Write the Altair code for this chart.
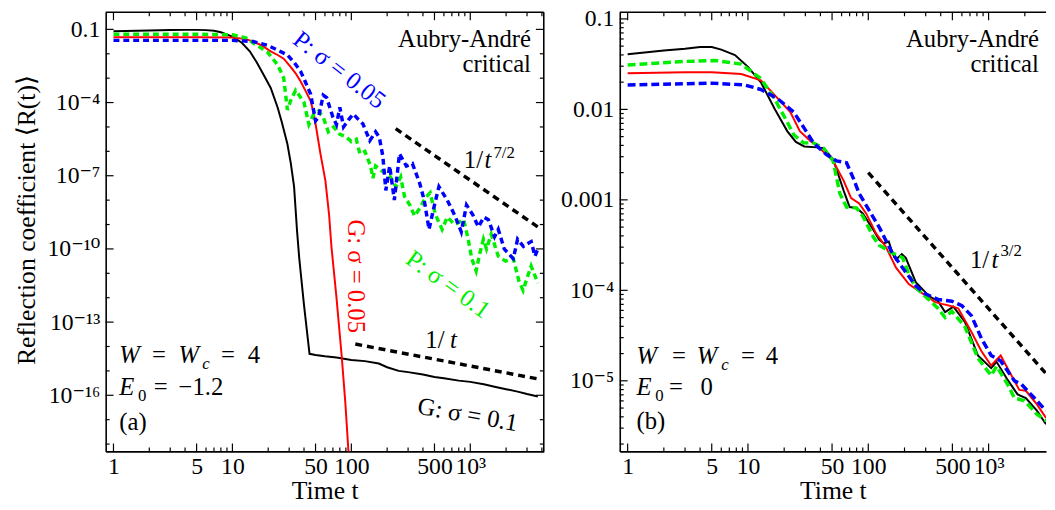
import altair as alt
import pandas as pd

FONT = "Liberation Serif, DejaVu Serif, serif"
BLACK, RED, GREEN, BLUE = "#000000", "#ff0000", "#00ee00", "#0000ff"

# ---------------- panel (a): E0 = -1.2 ----------------
a_G01_t = [1, 2, 3, 4, 5, 6, 7, 8, 10, 12, 14, 16, 18, 21, 24, 26, 29, 31, 33, 35, 36.5, 40, 44.5,
           50, 60, 75, 100, 130, 170, 200, 250, 300, 400, 500, 600, 800, 1000, 1300, 1600, 2000, 2500, 3000, 3700]
a_G01_logR = [-1.08, -1.05, -1.03, -1.02, -1.02, -1.03, -1.06, -1.12, -1.3, -1.55, -1.9, -2.35, -2.8, -3.4, -4.2,
              -4.8, -5.7, -6.5, -7.45, -9.3, -10.4, -12.3, -14.3,
              -14.35, -14.4, -14.45, -14.55, -14.6, -14.7, -14.85, -15.0, -15.05, -15.15, -15.25, -15.3, -15.4,
              -15.45, -15.55, -15.65, -15.75, -15.85, -15.95, -16.05]

a_G005_t = [1, 5, 10, 13, 15, 17.5, 21, 24, 27, 31, 34, 37.5, 41, 45.5, 48, 50, 55, 60.5, 65, 68, 75, 83, 89, 96]
a_G005_logR = [-1.32, -1.32, -1.33, -1.4, -1.5, -1.65, -1.9, -2.05, -2.2, -2.55, -2.8, -3.14, -3.5, -3.94, -4.4,
               -4.87, -6.1, -7.2, -8.6, -9.9, -12.0, -14.4, -16.3, -18.8]

a_P01_t = [1, 5, 10, 13, 15.4, 19.7, 24, 27, 29, 31, 34, 37, 40, 44, 48, 53, 58, 64, 71, 80, 90, 100, 110, 118, 130,
           145, 152, 160, 180, 210, 237, 260, 280, 310, 340, 380, 420, 460, 510, 580, 640, 740, 880, 960, 1030,
           1120, 1200, 1290, 1370, 1500, 1720, 1980, 2300, 2560, 2780, 3000, 3250, 3500, 3700]
a_P01_logR = [-1.2, -1.2, -1.22, -1.35, -1.6, -1.93, -2.45, -3.0, -4.3, -3.9, -3.5, -3.75, -4.0, -4.9, -4.5,
              -4.35, -4.6, -5.2, -5.0, -5.3, -5.4, -5.6, -5.5, -6.1, -6.0, -6.6, -7.1, -6.6, -6.8, -7.0,
              -7.45, -7.05, -7.85, -8.2, -8.65, -8.3, -7.9, -7.7, -8.6, -9.2, -8.7, -9.0, -8.8, -9.6, -10.4,
              -10.9, -10.2, -9.6, -10.0, -9.4, -10.3, -10.5, -10.4, -11.3, -11.7, -11.2, -10.7, -11.1, -11.4]

a_P005_t = [1, 5, 10, 15, 19.7, 24, 29, 33, 37.5, 41, 45.5, 50, 53, 58, 62, 70, 75, 80, 86, 95, 104, 115, 125, 143,
            160, 172, 184, 195, 210, 230, 254, 290, 326, 375, 410, 450, 500, 545, 640, 745, 840, 930, 1050, 1170,
            1300, 1420, 1600, 1720, 1930, 2300, 2500, 2800, 3000, 3250, 3500, 3700]
a_P005_logR = [-1.45, -1.45, -1.45, -1.5, -1.65, -1.85, -2.05, -2.35, -2.73, -3.15, -3.66, -4.75, -4.6, -3.7,
               -3.8, -4.6, -4.9, -4.2, -5.0, -4.7, -4.47, -4.7, -4.87, -5.56, -5.2, -5.43, -6.2, -7.6, -6.6,
               -8.0, -6.1, -6.6, -6.5, -7.3, -8.0, -9.2, -8.2, -7.45, -8.0, -8.65, -9.3, -8.2, -8.6, -9.1,
               -8.7, -8.8, -9.5, -9.2, -10.0, -10.4, -9.6, -9.9, -9.8, -9.7, -10.3, -10.0]

a_pow72_t = [236, 3700]
a_pow72_logR = [-5.07, -9.1]
a_pow1_t = [108, 3900]
a_pow1_logR = [-13.9, -15.35]

# ---------------- panel (b): E0 = 0 ----------------
b_G01_t = [1, 2, 3, 4, 5, 6, 7.8, 10, 12.8, 16.6, 21.2, 25, 29.4, 37.5, 42.6, 51, 62.5, 70, 80, 90, 110, 123, 135,
           148, 160, 170, 190, 205, 248, 317, 380, 435, 510, 635, 815, 1050, 1165, 1440, 1740, 2040, 2520, 3000]
b_G01_logR = [-1.39, -1.35, -1.33, -1.31, -1.31, -1.34, -1.40, -1.53, -1.70, -1.99, -2.24, -2.36, -2.41, -2.42,
              -2.43, -2.55, -2.9, -3.08, -3.09, -3.15, -3.33, -3.44, -3.48, -3.46, -3.6, -3.66, -3.6, -3.64,
              -3.91, -4.06, -4.12, -4.24, -4.18, -4.35, -4.72, -4.86, -4.79, -4.99, -5.15, -5.19, -5.33, -5.48]

b_G005_t = [1, 3, 5, 8.8, 12.8, 16.6, 22.5, 27, 33, 39.6, 51, 62.5, 72, 84, 96, 116, 140, 170, 217, 300, 360, 410,
            510, 560, 720, 870, 1050, 1260, 1490, 1800, 2040, 2520, 3000]
b_G005_logR = [-1.6, -1.59, -1.59, -1.61, -1.68, -1.84, -2.03, -2.24, -2.35, -2.43, -2.57, -2.79, -2.98, -3.04,
               -3.15, -3.37, -3.52, -3.75, -3.93, -4.06, -4.13, -4.15, -4.18, -4.2, -4.46, -4.67, -4.83, -4.72,
               -4.9, -5.1, -5.11, -5.26, -5.41]

b_P01_t = [1, 3, 5.4, 8.8, 12.8, 16.6, 21, 24, 29, 35, 42.6, 51, 58, 66, 80, 91, 110, 123, 154, 193, 217, 248, 317,
           380, 435, 495, 635, 815, 1050, 1165, 1440, 1640, 1990, 2520, 3000]
b_P01_logR = [-1.51, -1.47, -1.46, -1.5, -1.66, -1.88, -2.13, -2.28, -2.37, -2.37, -2.43, -2.57, -2.93, -3.08,
              -3.09, -3.19, -3.41, -3.5, -3.58, -3.64, -3.82, -3.97, -4.1, -4.2, -4.3, -4.23, -4.4, -4.75,
              -4.94, -4.84, -5.04, -5.19, -5.22, -5.37, -5.44]

b_P005_t = [1, 5, 9.4, 12.8, 17.6, 24, 29.4, 35, 45, 54.5, 66, 75, 84, 102, 123, 160, 205, 248, 300, 380, 495, 600,
            720, 870, 1050, 1260, 1640, 1880, 2400, 3000]
b_P005_logR = [-1.73, -1.71, -1.73, -1.78, -1.88, -2.03, -2.21, -2.37, -2.5, -2.57, -2.59, -2.76, -2.93, -3.12,
               -3.3, -3.6, -3.8, -3.95, -4.04, -4.1, -4.12, -4.17, -4.28, -4.53, -4.72, -4.78, -5.0, -5.04,
               -5.19, -5.33]

b_pow32_t = [100, 3000]
b_pow32_logR = [-2.70, -4.92]

# tick values
x_major = [1, 5, 10, 50, 100, 500, 1000]
x_minor = [2, 3, 4, 6, 7, 8, 9, 20, 30, 40, 60, 70, 80, 90, 200, 300, 400, 600, 700, 800, 900, 2000, 3000, 4000]
a_y_major_exp = [-1, -4, -7, -10, -13, -16]
a_y_labels = ["0.1", "10\u207b\u2074", "10\u207b\u2077", "10\u207b\u00b9\u2070", "10\u207b\u00b9\u00b3", "10\u207b\u00b9\u2076"]
b_y_major_exp = [-1, -2, -3, -4, -5]
b_y_labels = ["0.1", "0.01", "0.001", "10\u207b\u2074", "10\u207b\u2075"]


def df(t, logR):
    return pd.DataFrame({"t": t, "R": [10.0 ** v for v in logR]})


def tok(rows):
    return pd.DataFrame({"label": [r[0] for r in rows], "t": [r[1] for r in rows],
                         "R": [10.0 ** r[2] for r in rows]})


def make_panel(series, xdom, ydom, W, H, yaxis, y_major, y_minor, xmax, texts, rotated, right_border):
    xs = alt.Scale(type="log", domain=xdom, nice=False)
    ys = alt.Scale(type="log", domain=ydom, nice=False)
    xaxis = alt.Axis(values=x_major, labelExpr="datum.value > 999 ? '10\u00b3' : '' + round(datum.value)",
                     ticks=False, grid=False, domainColor="black", domainWidth=1.6, labelFont=FONT,
                     labelFontSize=24, labelColor="black", labelPadding=3, labelFlush=False,
                     labelOverlap=False, title="Time t", titleFont=FONT, titleFontSize=26,
                     titleFontWeight="normal", titleColor="black", titlePadding=0)
    X = alt.X("t:Q", scale=xs, axis=xaxis)
    Y = alt.Y("R:Q", scale=ys, axis=yaxis)
    layers = []
    for d, color, width, dash in series:
        kw = dict(color=color, strokeWidth=width, clip=True)
        if dash:
            kw["strokeDash"] = dash
        layers.append(alt.Chart(d).mark_line(**kw).encode(x=X, y=Y))
    one = pd.DataFrame({"z": [0]})
    xmaj = pd.DataFrame({"t": [v for v in x_major if v < xmax]})
    xmin = pd.DataFrame({"t": [v for v in x_minor if v < xmax]})
    ymaj = pd.DataFrame({"R": y_major})
    ymin = pd.DataFrame({"R": y_minor})
    rk = dict(color="black", strokeWidth=1.2)
    for d, L in ((xmaj, 8), (xmin, 4)):
        layers.append(alt.Chart(d).mark_rule(**rk).encode(x=X, y=alt.value(H), y2=alt.value(H - L)))
        layers.append(alt.Chart(d).mark_rule(**rk).encode(x=X, y=alt.value(0), y2=alt.value(L)))
    for d, L in ((ymaj, 8), (ymin, 4)):
        layers.append(alt.Chart(d).mark_rule(**rk).encode(y=Y, x=alt.value(0), x2=alt.value(L)))
        if right_border:
            layers.append(alt.Chart(d).mark_rule(**rk).encode(y=Y, x=alt.value(W - L), x2=alt.value(W)))
    layers.append(alt.Chart(one).mark_rule(color="black", strokeWidth=1.6).encode(
        x=alt.value(0), x2=alt.value(W), y=alt.value(0)))
    if right_border:
        layers.append(alt.Chart(one).mark_rule(color="black", strokeWidth=1.6).encode(
            x=alt.value(W), y=alt.value(0), y2=alt.value(H)))
    for rows, align, size, style in texts:
        kw = dict(align=align, baseline="alphabetic", font=FONT, fontSize=size, color="black")
        if style:
            kw["fontStyle"] = style
        layers.append(alt.Chart(tok(rows)).mark_text(**kw).encode(x=X, y=Y, text="label:N"))
    for label, t, lr, ang, color in rotated:
        layers.append(alt.Chart(tok([(label, t, lr)])).mark_text(
            align="center", baseline="middle", font=FONT, fontSize=25, color=color, angle=ang
        ).encode(x=X, y=Y, text="label:N"))
    return alt.layer(*layers).properties(width=W, height=H)


def ylab_expr(labels, exps):
    arr = "[" + ",".join("'" + s + "'" for s in labels) + "]"
    step = exps[0] - exps[1]
    return arr + "[round((-log(datum.value)/LN10 - 1)/" + str(step) + ")]"


ya = alt.Axis(values=[10.0 ** e for e in a_y_major_exp], labelExpr=ylab_expr(a_y_labels, a_y_major_exp),
              ticks=False, grid=False, domainColor="black", domainWidth=1.6, labelFont=FONT, labelFontSize=24,
              labelColor="black", labelPadding=6, labelFlush=False, labelOverlap=False,
              title="Reflection coefficient \u27e8R(t)\u27e9", titleFont=FONT, titleFontSize=26,
              titleFontWeight="normal", titleColor="black", titlePadding=8, titleY=210)
yb = alt.Axis(values=[10.0 ** e for e in b_y_major_exp], labelExpr=ylab_expr(b_y_labels, b_y_major_exp),
              ticks=False, grid=False, domainColor="black", domainWidth=1.6, labelFont=FONT, labelFontSize=24,
              labelColor="black", labelPadding=6, labelFlush=False, labelOverlap=False, title=None)

a_series = [
    (df(a_G01_t, a_G01_logR), BLACK, 2, None),
    (df(a_G005_t, a_G005_logR), RED, 2, None),
    (df(a_P01_t, a_P01_logR), GREEN, 3.5, [6, 4]),
    (df(a_P005_t, a_P005_logR), BLUE, 3.5, [6, 4]),
    (df(a_pow72_t, a_pow72_logR), BLACK, 3.5, [7, 5]),
    (df(a_pow1_t, a_pow1_logR), BLACK, 3.5, [7, 5]),
]
b_series = [
    (df(b_G01_t, b_G01_logR), BLACK, 2, None),
    (df(b_G005_t, b_G005_logR), RED, 2, None),
    (df(b_P01_t, b_P01_logR), GREEN, 3.5, [8, 4]),
    (df(b_P005_t, b_P005_logR), BLUE, 3.5, [8, 4]),
    (df(b_pow32_t, b_pow32_logR), BLACK, 3.5, [7, 5]),
]

a_texts = [
    ([("Aubry-Andr\u00e9", 3238, -1.729), ("critical", 3238, -2.741)], "right", 25, None),
    ([("=", 2.408, -14.684), ("=", 9.18, -14.684), ("=", 2.50, -15.98)], "center", 25, None),
    ([("4", 13.45, -14.684), ("\u22121.2", 3.527, -15.98), ("(a)", 1.121, -17.437),
      ("1/", 883, -6.668), ("1/", 419, -14.077)], "left", 25, None),
    ([("W", 1.121, -14.684), ("W", 3.527, -14.684), ("E", 1.121, -15.98), ("t", 1319, -6.668),
      ("t", 676, -14.077)], "left", 25, "italic"),
    ([("c", 5.584, -14.927)], "left", 17, "italic"),
    ([("0", 1.61, -16.223), ("7/2", 1567, -6.263)], "left", 17, None),
]
a_rot = [
    ("P: \u03c3 = 0.05", 79.5, -2.66, 38, BLUE),
    ("G: \u03c3 = 0.05", 110, -11.12, 90, RED),
    ("P: \u03c3 = 0.1", 651, -11.45, 36, GREEN),
    ("G: \u03c3 = 0.1", 953, -16.79, 10, BLACK),
]
b_texts = [
    ([("Aubry-Andr\u00e9", 2618, -1.316), ("critical", 2618, -1.589)], "right", 25, None),
    ([("=", 2.668, -4.817), ("=", 10.0, -4.817), ("=", 2.52, -5.155)], "center", 25, None),
    ([("4", 14.04, -4.817), ("0", 4.04, -5.155), ("(b)", 1.185, -5.537), ("1/", 699, -3.748)],
     "left", 25, None),
    ([("W", 1.185, -4.817), ("W", 3.747, -4.817), ("E", 1.185, -5.155), ("t", 1059, -3.748)],
     "left", 25, "italic"),
    ([("c", 6.0, -4.882)], "left", 17, "italic"),
    ([("0", 1.697, -5.22), ("3/2", 1253, -3.617)], "left", 17, None),
]

a_y_minor = [10.0 ** e for e in range(-2, -19, -1) if e not in a_y_major_exp]
b_y_minor = [k * 10.0 ** e for e in range(-2, -7, -1) for k in range(2, 10) if k * 10.0 ** e > 10 ** -5.78]

pa = make_panel(a_series, [0.86, 4150], [10 ** -18.3, 10 ** -0.3], 444, 445, ya,
                [10.0 ** e for e in a_y_major_exp], a_y_minor, 4150, a_texts, a_rot, True)
pb = make_panel(b_series, [0.86, 3000], [10 ** -5.78, 10 ** -0.927], 432, 445, yb,
                [10.0 ** e for e in b_y_major_exp], b_y_minor, 2999, b_texts, [], False)

chart = alt.hconcat(pa, pb, spacing=16).properties(
    padding={"left": 5, "top": -5, "right": 0, "bottom": 0}
).configure_view(stroke=None)

chart.save("out.html", embed_options={"renderer": "svg", "actions": False})
